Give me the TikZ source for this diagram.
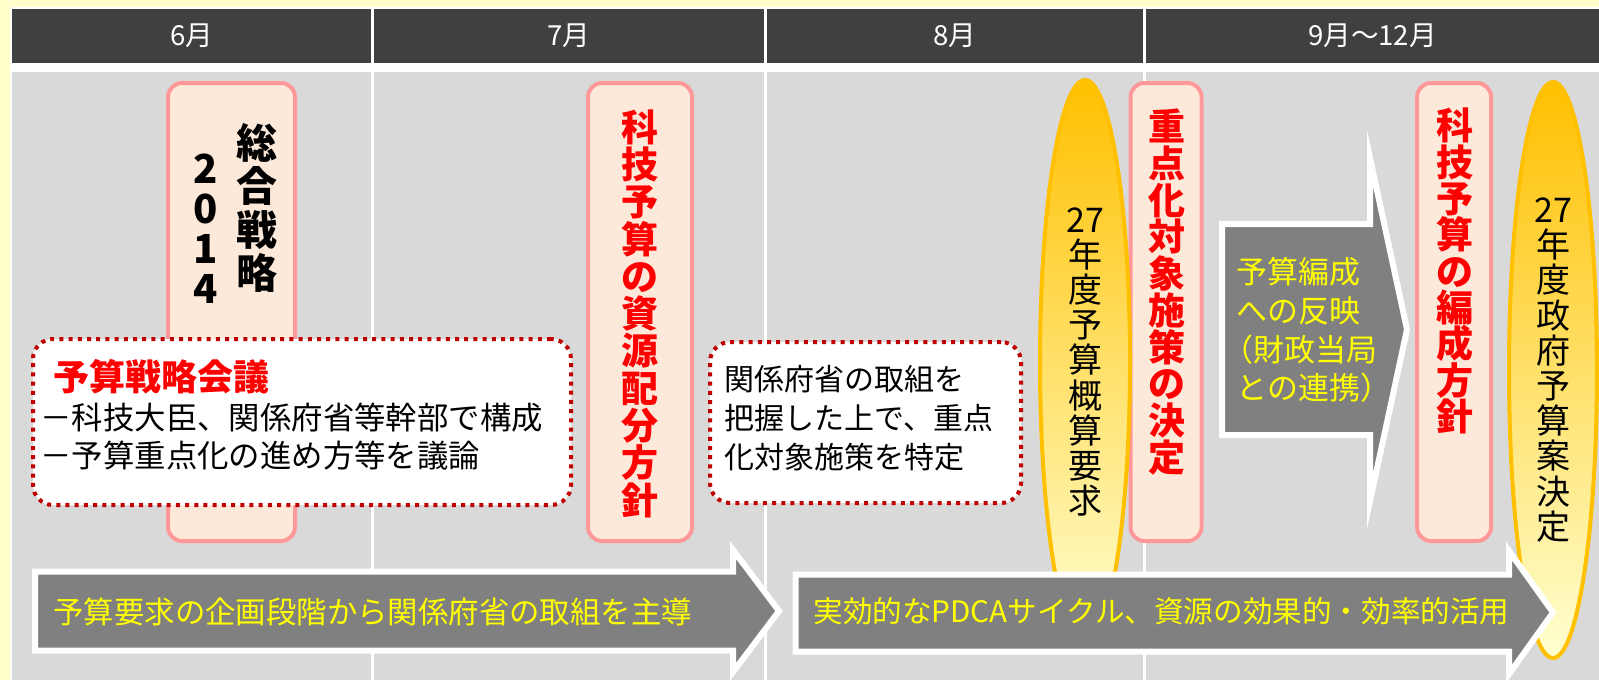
\documentclass[tikz,border=0pt]{standalone}
\usepackage{fontspec}
\setmainfont{Noto Sans CJK JP}
\usetikzlibrary{shapes.geometric}
\definecolor{bgyellow}{HTML}{FFFFCC}
\definecolor{headgray}{HTML}{404040}
\definecolor{cellgray}{HTML}{D9D9D9}
\definecolor{pinkfill}{HTML}{FDE9D9}
\definecolor{pinkline}{HTML}{FF9999}
\definecolor{dotred}{HTML}{C00000}
\definecolor{gold}{HTML}{FFC000}
\definecolor{paleyellow}{HTML}{FFFFD0}
\definecolor{arrowgray}{HTML}{808080}
\definecolor{textyellow}{HTML}{FFFF00}
\setlength{\lineskiplimit}{-20pt}

\begin{document}
\begin{tikzpicture}[x=0.5pt, y=-0.5pt, every node/.style={inner sep=0pt},
        headcell/.style={fill=headgray, text=white, minimum height=27pt, font=\fontsize{13.8}{16}\selectfont},
        pinkbox/.style={draw=pinkline, fill=pinkfill, line width=2pt, rounded corners=7pt, minimum height=229pt},
        redcol/.style={text=red, align=center, font=\fontsize{18.5}{#1}\selectfont\bfseries},
        dotbox/.style={draw=dotred, fill=white, line width=2pt, dash pattern=on 2pt off 2.6pt, rounded corners=10pt},
        goal/.style={ellipse, draw=gold, line width=2pt, top color=gold, bottom color=paleyellow, align=center, font=\fontsize{17}{17.6}\selectfont},
        bigarrow/.style={fill=arrowgray, draw=white, line width=3pt, line join=miter},
        arrowtext/.style={text=textyellow, anchor=west, font=\fontsize{15.2}{19.4}\selectfont}]

        \fill[bgyellow] (0,0) rectangle (1599,680);
        \fill[white] (10,7) rectangle (1599,680);
        \fill[cellgray] (12,72) rectangle (371,680);
        \fill[cellgray] (374,72) rectangle (764,680);
        \fill[cellgray] (767,72) rectangle (1143,680);
        \fill[cellgray] (1146,72) rectangle (1599,680);

        \node[headcell, minimum width=179.5pt] (1) at (191.5,36) {6月};
        \node[headcell, minimum width=195pt] (2) at (569,36) {7月};
        \node[headcell, minimum width=188pt] (3) at (955,36) {8月};
        \node[headcell, minimum width=226.5pt] (4) at (1372.5,36) {9月～12月};

        \node[pinkbox, minimum width=63.5pt] (5) at (231.5,312) {};
        \node[pinkbox, minimum width=52pt] (6) at (640,312) {};
        \node[pinkbox, minimum width=35.5pt] (7) at (1166,312) {};
        \node[pinkbox, minimum width=37pt] (8) at (1454,312) {};

        \node[align=center, font=\fontsize{20.5}{21.7}\selectfont\bfseries] (9) at (257,208) {総\\合\\戦\\略};
        \node[align=center, font=\fontsize{20}{20}\selectfont\bfseries] (10) at (206,229) {2\\0\\1\\4};
        \node[redcol=18.65] (11) at (640,313.5) {科\\技\\予\\算\\の\\資\\源\\配\\分\\方\\針};
        \node[redcol=18.35] (12) at (1167,292) {重\\点\\化\\対\\象\\施\\策\\の\\決\\定};
        \node[redcol=18.15] (13) at (1455,271) {科\\技\\予\\算\\の\\編\\成\\方\\針};

        \node[dotbox, minimum width=269pt, minimum height=83pt] (14) at (302,422) {};
        \node[dotbox, minimum width=155.5pt, minimum height=80.5pt] (15) at (865.5,422.5) {};
        \node[anchor=west, text=red, font=\fontsize{18}{20}\selectfont\bfseries] (16) at (53,377) {予算戦略会議};
        \node[anchor=west, align=left, font=\fontsize{15.7}{19}\selectfont] (17) at (40,437) {－科技大臣、関係府省等幹部で構成\\－予算重点化の進め方等を議論};
        \node[anchor=west, align=left, font=\fontsize{15}{19.5}\selectfont] (18) at (724,418.5) {関係府省の取組を\\把握した上で、重点\\化対象施策を特定};

        \node[goal, minimum width=45pt, minimum height=282pt] (19) at (1085,362) {27\\年\\度\\予\\算\\概\\算\\要\\求};
        \node[goal, minimum width=44pt, minimum height=288pt] (20) at (1553,370) {27\\年\\度\\政\\府\\予\\算\\案\\決\\定};

        \draw[bigarrow] (1222,224) -- (1370,224) -- (1370,158) -- (1407,329.5) -- (1370,501) -- (1370,435) -- (1222,435) -- cycle;
        \node[arrowtext, align=left, font=\fontsize{15.5}{19.4}\selectfont] (21) at (1236,330) {予算編成\\への反映\\\hspace*{-7pt}（財政当局\\との連携）};

        \draw[bigarrow] (35,571.5) -- (733,571.5) -- (733,550) -- (779,611) -- (733,672) -- (733,650.5) -- (35,650.5) -- cycle;
        \draw[bigarrow] (795.5,574.5) -- (1509,574.5) -- (1509,551) -- (1553,612.5) -- (1509,674) -- (1509,651.5) -- (795.5,651.5) -- cycle;
        \node[arrowtext] (22) at (53,612) {予算要求の企画段階から関係府省の取組を主導};
        \node[arrowtext, font=\fontsize{14.8}{19}\selectfont] (23) at (813,611) {実効的なPDCAサイクル、資源の効果的・効率的活用};

\end{tikzpicture}
\end{document}
